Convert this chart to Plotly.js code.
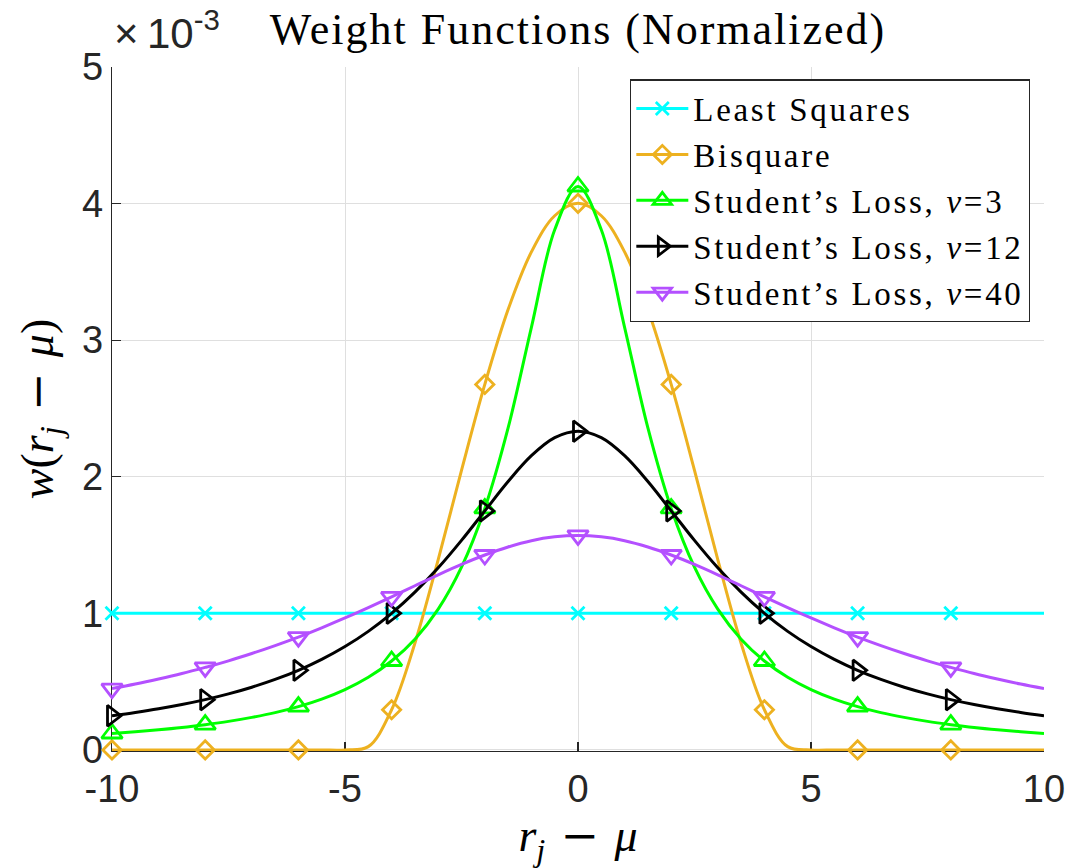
<!DOCTYPE html>
<html>
<head>
<meta charset="utf-8">
<script src="https://cdn.plot.ly/plotly-3.0.1.min.js"></script>
<style>
  html, body { margin: 0; padding: 0; background: #ffffff; }
  #chart { width: 1089px; height: 868px; }
  .legendtext { letter-spacing: 2.7px; }
  .gtitle { letter-spacing: 2px; }
</style>
</head>
<body>
<div id="chart"></div>
<script>
// Residual r_j - mu (sampled every 0.5)
const residual = [-10, -9.5, -9, -8.5, -8, -7.5, -7, -6.5, -6, -5.5, -5, -4.5, -4, -3.5, -3, -2.5, -2, -1.5, -1, -0.5,
  0, 0.5, 1, 1.5, 2, 2.5, 3, 3.5, 4, 4.5, 5, 5.5, 6, 6.5, 7, 7.5, 8, 8.5, 9, 9.5, 10];

// Normalized weights, in units of 1e-3
const leastSquares = [1, 1, 1, 1, 1, 1, 1, 1, 1, 1, 1, 1, 1, 1, 1, 1, 1, 1, 1, 1,
  1, 1, 1, 1, 1, 1, 1, 1, 1, 1, 1, 1, 1, 1, 1, 1, 1, 1, 1, 1, 1];
const bisquare = [0, 0, 0, 0, 0, 0, 0, 0, 0, 0, 0, 0.024, 0.294, 0.781, 1.393, 2.047, 2.676, 3.224, 3.646, 3.911,
  4.002, 3.911, 3.646, 3.224, 2.676, 2.047, 1.393, 0.781, 0.294, 0.024, 0, 0, 0, 0, 0, 0, 0, 0, 0, 0, 0];
const studentNu3 = [0.120, 0.133, 0.147, 0.164, 0.185, 0.209, 0.238, 0.273, 0.317, 0.372, 0.442, 0.532, 0.651, 0.811, 1.031, 1.338, 1.768, 2.357, 3.094, 3.808,
  4.125, 3.808, 3.094, 2.357, 1.768, 1.338, 1.031, 0.811, 0.651, 0.532, 0.442, 0.372, 0.317, 0.273, 0.238, 0.209, 0.185, 0.164, 0.147, 0.133, 0.120];
const studentNu12 = [0.250, 0.274, 0.301, 0.332, 0.368, 0.410, 0.459, 0.516, 0.583, 0.663, 0.757, 0.868, 1.000, 1.155, 1.333, 1.534, 1.750, 1.965, 2.154, 2.286,
  2.333, 2.286, 2.154, 1.965, 1.750, 1.534, 1.333, 1.155, 1.000, 0.868, 0.757, 0.663, 0.583, 0.516, 0.459, 0.410, 0.368, 0.332, 0.301, 0.274, 0.250];
const studentNu40 = [0.449, 0.482, 0.519, 0.559, 0.604, 0.652, 0.706, 0.764, 0.826, 0.894, 0.966, 1.042, 1.121, 1.202, 1.282, 1.358, 1.427, 1.486, 1.532, 1.560,
  1.570, 1.560, 1.532, 1.486, 1.427, 1.358, 1.282, 1.202, 1.121, 1.042, 0.966, 0.894, 0.826, 0.764, 0.706, 0.652, 0.604, 0.559, 0.519, 0.482, 0.449];

const seriesNames = ['Least Squares', 'Bisquare', 'Student’s Loss, <i>ν</i>=3', 'Student’s Loss, <i>ν</i>=12', 'Student’s Loss, <i>ν</i>=40'];
const xTickVals = [-10, -5, 0, 5, 10];
const yTickVals = [0, 1, 2, 3, 4, 5];

const seriesData = [leastSquares, bisquare, studentNu3, studentNu12, studentNu40];
const styles = [
  {color: '#00FFFF', symbol: 'x-thin-open', size: 13},
  {color: '#EDB120', symbol: 'diamond-open', size: 14},
  {color: '#00FF00', symbol: 'triangle-up-open', size: 18},
  {color: '#000000', symbol: 'triangle-right-open', size: 18},
  {color: '#B450FF', symbol: 'triangle-down-open', size: 18}
];

// marker every 2 units, from -10 to 8
const markIdx = residual.map((v, i) => i).filter(i => Number.isInteger(residual[i] / 2) && residual[i] < 10);

const traces = [];
seriesData.forEach((ys, k) => {
  const st = styles[k];
  traces.push({
    type: 'scatter', mode: 'lines', x: residual, y: ys,
    line: {color: st.color, width: 3, shape: 'spline', smoothing: 1},
    showlegend: false, hoverinfo: 'skip', cliponaxis: false
  });
  traces.push({
    type: 'scatter', mode: 'markers',
    x: markIdx.map(i => residual[i]), y: markIdx.map(i => ys[i]),
    marker: {color: st.color, symbol: st.symbol, size: st.size, line: {color: st.color, width: 2.8}},
    showlegend: false, cliponaxis: false
  });
});
// legend entries
seriesData.forEach((ys, k) => {
  const st = styles[k];
  traces.push({
    type: 'scatter', mode: 'lines+markers', x: [null], y: [null], name: seriesNames[k],
    line: {color: st.color, width: 3},
    marker: {color: st.color, symbol: st.symbol, size: st.size, line: {color: st.color, width: 2.8}},
    showlegend: true
  });
});

const axisColor = '#262626';
const gridColor = '#DFDFDF';
const mathMinus = '\u2004<span style="font-family:DejaVu Serif">−</span>\u2004';
const layout = {
  width: 1089, height: 868,
  paper_bgcolor: '#ffffff', plot_bgcolor: '#ffffff',
  margin: {l: 112, r: 45, t: 67, b: 117},
  showlegend: true,
  title: {
    text: 'Weight Functions (Normalized)',
    font: {family: 'Liberation Serif', size: 44, color: '#000000'},
    x: 0.5, xref: 'paper', xanchor: 'center',
    y: 0.967, yref: 'container', yanchor: 'middle'
  },
  xaxis: {
    range: [-10, 10], tickvals: xTickVals, ticktext: xTickVals.map(String),
    showgrid: true, gridcolor: gridColor, gridwidth: 1,
    zeroline: false, showline: true, linecolor: axisColor, linewidth: 1.3,
    ticks: 'inside', ticklen: 9, tickcolor: axisColor, tickwidth: 1.3,
    tickfont: {family: 'Liberation Sans', size: 38, color: axisColor},
    ticklabelstandoff: 4,
    layer: 'below traces',
    title: {text: '<i>r<sub>j</sub></i>' + mathMinus + '<i>μ</i>', font: {family: 'Liberation Serif', size: 46, color: '#000000'}, standoff: 8}
  },
  yaxis: {
    range: [-0.008, 5], tickvals: yTickVals, ticktext: yTickVals.map(String),
    showgrid: true, gridcolor: gridColor, gridwidth: 1,
    zeroline: false, showline: true, linecolor: axisColor, linewidth: 1.3,
    ticks: 'inside', ticklen: 9, tickcolor: axisColor, tickwidth: 1.3,
    tickfont: {family: 'Liberation Sans', size: 38, color: axisColor},
    layer: 'below traces',
    title: {text: '<i>w</i>(<i>r<sub>j</sub></i>' + mathMinus + '<i>μ</i>)', font: {family: 'Liberation Serif', size: 46, color: '#000000'}, standoff: 14}
  },
  legend: {
    x: 0.985, xanchor: 'right', y: 0.982, yanchor: 'top',
    bgcolor: '#ffffff', bordercolor: '#262626', borderwidth: 1.3,
    font: {family: 'Liberation Serif', size: 33, color: '#000000'},
    itemwidth: 52, tracegroupgap: 0
  },
  annotations: [{
    text: '×\u200910<sup>-3</sup>', xref: 'paper', yref: 'paper', x: 0, y: 1,
    xanchor: 'left', yanchor: 'bottom', showarrow: false, yshift: 8,
    font: {family: 'Liberation Sans', size: 42, color: axisColor}
  }]
};

Plotly.newPlot('chart', traces, layout, {staticPlot: true, displayModeBar: false});
</script>
</body>
</html>
